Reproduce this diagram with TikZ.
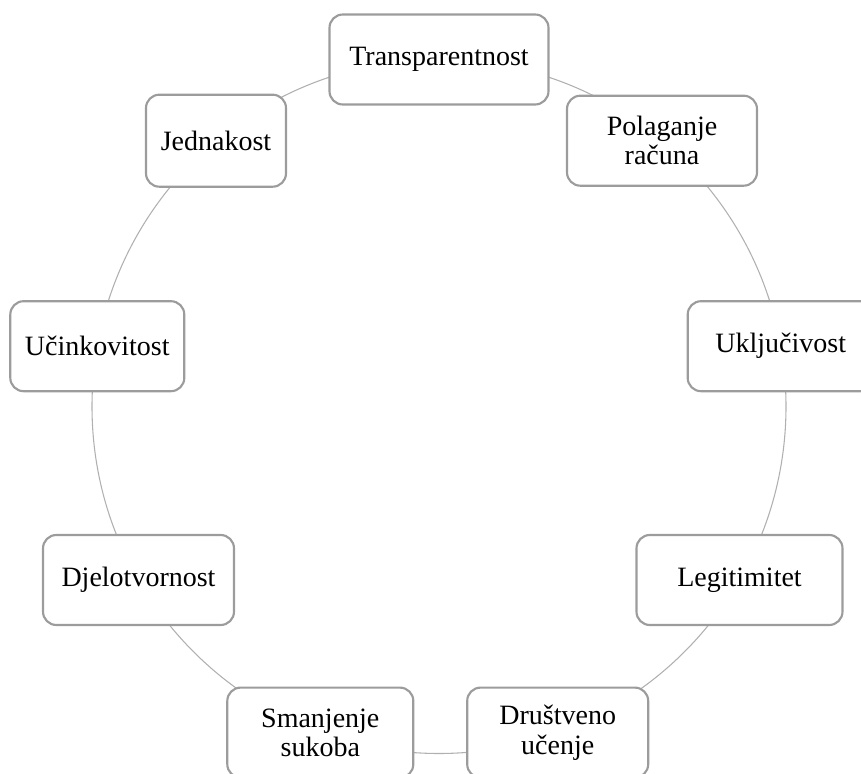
\documentclass[tikz,border=0pt]{standalone}
\usepackage{fontspec}
\setmainfont{Liberation Serif}
\definecolor{boxgray}{HTML}{9C9C9C}
\definecolor{ringgray}{HTML}{B0B0B0}
\tikzset{
  box/.style={draw=boxgray, line width=1.6pt, rounded corners=10pt, fill=white,
    align=center, font=\fontsize{21}{22}\selectfont, inner sep=0pt,
    minimum height=67.5pt},
  ring/.style={draw=ringgray, line width=0.8pt}
}
\begin{document}
\begin{tikzpicture}[x=0.75pt,y=-0.75pt]
\useasboundingbox (0,0) rectangle (861,774);
\coordinate (c) at (439,406.5);
\draw[ring] (c) circle[radius=260.25pt];
\node[box, minimum width=164.25pt] (t)  at (439,59.5)    {Transparentnost};
\node[box, minimum width=142.5pt]  (p)  at (662,140.7)   {Polaganje\\računa};
\node[box, minimum width=139.5pt]  (u)  at (780.7,346.2) {Uključivost};
\node[box, minimum width=154.5pt]  (l)  at (739.5,580)   {Legitimitet};
\node[box, minimum width=135.75pt] (dr) at (557.7,732.6) {Društveno\\učenje};
\node[box, minimum width=139.5pt]  (s)  at (320.3,732.6) {Smanjenje\\sukoba};
\node[box, minimum width=143.25pt] (dj) at (138.5,580)   {Djelotvornost};
\node[box, minimum width=130.5pt]  (uc) at (97.3,346.2)  {Učinkovitost};
\node[box, minimum width=105pt, minimum height=69pt] (j) at (216,140.7) {Jednakost};
\end{tikzpicture}
\end{document}
